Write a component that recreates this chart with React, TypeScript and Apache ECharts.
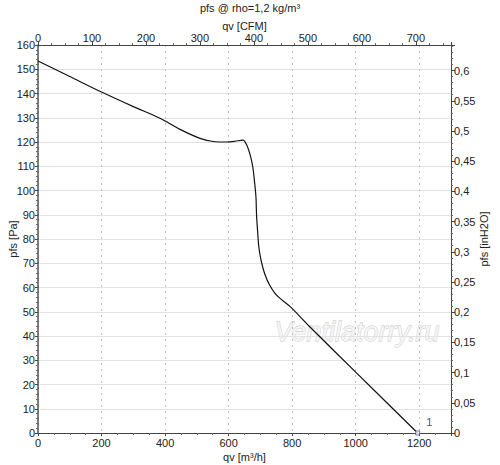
import React, { useEffect, useRef } from "react";
import * as echarts from "echarts";

// Flow (m³/h) and static pressure (Pa)
const flowM3h = [0, 100, 200, 300, 384, 447, 510, 557, 594, 620, 645, 657, 668, 676, 681, 686, 688, 691, 695, 702, 713, 729, 746, 762, 794, 857, 1000, 1195];
const pressurePa = [153.4, 147.0, 140.6, 134.6, 129.8, 125.2, 121.5, 120.1, 120.0, 120.3, 120.8, 118.8, 114.6, 109.8, 104.3, 97.4, 89.6, 83.7, 76.8, 71.3, 65.9, 61.0, 57.6, 55.5, 52.1, 43.6, 25.1, 0];

// End point label
const pointFlow = [1195];
const pointPressure = [0];
const pointNames = ["1"];

const M3H_PER_CFM = 1.699011;
const PA_PER_INH2O = 249.0889;
const X_MAX = 1300;
const Y_MAX = 160;

const titleText = "pfs @ rho=1,2 kg/m³";
const watermark = "Ventilatorry.ru";

const FONT = "'Liberation Sans', Arial, sans-serif";

export default function App() {
  const ref = useRef<HTMLDivElement>(null);
  useEffect(() => {
    if (!ref.current) return;
    const chart = echarts.init(ref.current, null, { renderer: "svg" });
    const labelStyle = { fontFamily: FONT, fontSize: 11, color: "#222" };
    const option: any = {
      animation: false,
      backgroundColor: "#fff",
      textStyle: { fontFamily: FONT },
      title: {
        text: titleText,
        left: "center",
        top: 0,
        padding: [2, 5, 2, 5],
        textStyle: { fontFamily: FONT, fontSize: 11, fontWeight: "normal", color: "#222" },
      },
      grid: { left: 38, right: 49, top: 45, bottom: 32, containLabel: false, outerBoundsMode: "none" },
      xAxis: [
        {
          type: "value",
          position: "bottom",
          min: 0,
          max: X_MAX,
          interval: 200,
          name: "qv [m³/h]",
          nameLocation: "middle",
          nameGap: 18,
          nameMoveOverlap: false,
          nameTextStyle: labelStyle,
          axisLine: { show: true, onZero: false, lineStyle: { color: "#444", width: 1 } },
          axisTick: { show: true, inside: false, length: 3, lineStyle: { color: "#444" } },
          minorTick: { show: true, splitNumber: 4, length: 2, lineStyle: { color: "#666" } },
          axisLabel: { ...labelStyle, margin: 4, showMaxLabel: false, formatter: (v: number) => String(v) },
          splitLine: { show: true, lineStyle: { color: "#bbb", type: [2, 4], width: 1 } },
        },
        {
          type: "value",
          position: "top",
          min: 0,
          max: X_MAX / M3H_PER_CFM,
          interval: 100,
          name: "qv [CFM]",
          nameLocation: "middle",
          nameGap: 14,
          nameMoveOverlap: false,
          nameTextStyle: labelStyle,
          axisLine: { show: true, onZero: false, lineStyle: { color: "#444", width: 1 } },
          axisTick: { show: true, inside: false, length: 3, lineStyle: { color: "#444" } },
          minorTick: { show: true, splitNumber: 4, length: 2, lineStyle: { color: "#666" } },
          axisLabel: { ...labelStyle, margin: 2, showMaxLabel: false, formatter: (v: number) => String(v) },
          splitLine: { show: false },
        },
      ],
      yAxis: [
        {
          type: "value",
          position: "left",
          min: 0,
          max: Y_MAX,
          interval: 10,
          name: "pfs [Pa]",
          nameLocation: "middle",
          nameGap: 20,
          nameMoveOverlap: false,
          nameTextStyle: labelStyle,
          axisLine: { show: true, onZero: false, lineStyle: { color: "#555", width: 1.5 } },
          axisTick: { show: true, inside: false, length: 3, lineStyle: { color: "#444" } },
          minorTick: { show: true, splitNumber: 5, length: 2, lineStyle: { color: "#666" } },
          axisLabel: { ...labelStyle, margin: 3 },
          splitLine: { show: true, lineStyle: { color: "#e2e2e2", width: 1 } },
        },
        {
          type: "value",
          position: "right",
          min: 0,
          max: Y_MAX / PA_PER_INH2O,
          interval: 0.05,
          name: "pfs [inH2O]",
          nameLocation: "middle",
          nameGap: 27,
          nameMoveOverlap: false,
          nameTextStyle: labelStyle,
          axisLine: { show: true, onZero: false, lineStyle: { color: "#444", width: 1 } },
          axisTick: { show: true, inside: false, length: 4, lineStyle: { color: "#444" } },
          minorTick: { show: true, splitNumber: 5, length: 2, lineStyle: { color: "#666" } },
          axisLabel: {
            ...labelStyle,
            margin: 3,
            showMaxLabel: false,
            formatter: (v: number) => String(Math.round(v * 100) / 100).replace(".", ","),
          },
          splitLine: { show: false },
        },
      ],
      graphic: [
        {
          type: "text",
          x: 357,
          y: 332,
          z: 0,
          style: {
            text: watermark,
            x: 0,
            y: 0,
            align: "center",
            verticalAlign: "middle",
            font: `italic 27px ${FONT}`,
            fill: "#f5f5f5",
            stroke: "#c2c2c2",
            lineWidth: 0.8,
          },
        },
      ],
      series: [
        {
          type: "line",
          xAxisIndex: 0,
          yAxisIndex: 0,
          data: flowM3h.map((q, i) => [q, pressurePa[i]]),
          smooth: 0.3,
          showSymbol: false,
          symbol: "none",
          lineStyle: { color: "#111", width: 1.2 },
          z: 5,
        },
        {
          type: "scatter",
          xAxisIndex: 0,
          yAxisIndex: 0,
          data: pointFlow.map((q, i) => ({ value: [q, pointPressure[i]], name: pointNames[i] })),
          symbol: "rect",
          symbolSize: 4,
          itemStyle: { color: "#ffffff", borderColor: "#5a4fb0", borderWidth: 1 },
          label: {
            show: true,
            formatter: (p: any) => p.name,
            position: [11, -14],
            fontFamily: FONT,
            fontSize: 11,
            color: "#222",
          },
          z: 6,
        },
      ],
    };
    chart.setOption(option);
    return () => chart.dispose();
  }, []);
  return (
    <div
      ref={ref}
      style={{ position: "fixed", left: 0, top: 0, width: 500, height: 465, background: "#fff" }}
    />
  );
}
